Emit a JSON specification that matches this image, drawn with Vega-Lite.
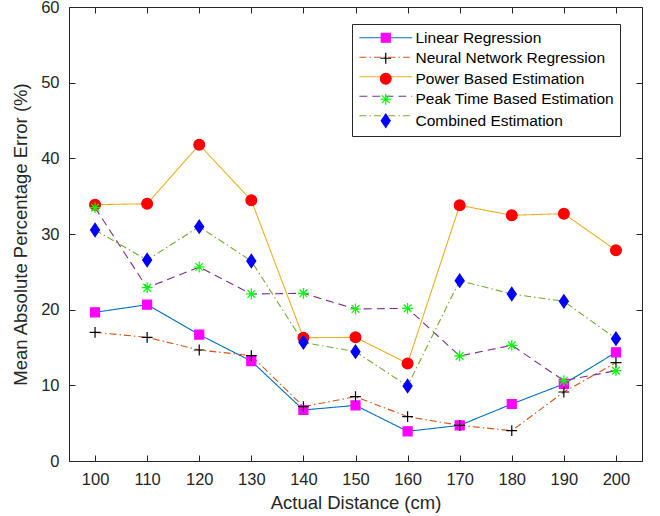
{
  "$schema": "https://vega.github.io/schema/vega-lite/v6.json",
  "width": 573,
  "height": 454,
  "autosize": "none",
  "padding": {"left": 69, "top": 7, "right": 18, "bottom": 55},
  "background": "white",
  "config": {
    "view": {"stroke": null},
    "font": "Liberation Sans",
    "axis": {"grid": false, "domainColor": "#262626", "tickColor": "#262626", "labelColor": "#262626", "titleColor": "#262626", "domainWidth": 1, "tickWidth": 1, "labelFont": "Liberation Sans", "titleFont": "Liberation Sans", "labelFontSize": 16.5, "titleFontSize": 18.5, "titleFontWeight": "normal"},
    "legend": {"labelFont": "Liberation Sans"}
  },
  "data": {"values": [
    {"distance": 100, "mape": 19.65, "method": "Linear Regression"},
    {"distance": 110, "mape": 20.66, "method": "Linear Regression"},
    {"distance": 120, "mape": 16.7, "method": "Linear Regression"},
    {"distance": 130, "mape": 13.2, "method": "Linear Regression"},
    {"distance": 140, "mape": 6.74, "method": "Linear Regression"},
    {"distance": 150, "mape": 7.35, "method": "Linear Regression"},
    {"distance": 160, "mape": 3.92, "method": "Linear Regression"},
    {"distance": 170, "mape": 4.71, "method": "Linear Regression"},
    {"distance": 180, "mape": 7.53, "method": "Linear Regression"},
    {"distance": 190, "mape": 10.18, "method": "Linear Regression"},
    {"distance": 200, "mape": 14.36, "method": "Linear Regression"},
    {"distance": 100, "mape": 17.0, "method": "Neural Network Regression"},
    {"distance": 110, "mape": 16.34, "method": "Neural Network Regression"},
    {"distance": 120, "mape": 14.67, "method": "Neural Network Regression"},
    {"distance": 130, "mape": 13.92, "method": "Neural Network Regression"},
    {"distance": 140, "mape": 7.18, "method": "Neural Network Regression"},
    {"distance": 150, "mape": 8.5, "method": "Neural Network Regression"},
    {"distance": 160, "mape": 5.86, "method": "Neural Network Regression"},
    {"distance": 170, "mape": 4.71, "method": "Neural Network Regression"},
    {"distance": 180, "mape": 4.01, "method": "Neural Network Regression"},
    {"distance": 190, "mape": 9.12, "method": "Neural Network Regression"},
    {"distance": 200, "mape": 13.0, "method": "Neural Network Regression"},
    {"distance": 100, "mape": 33.88, "method": "Power Based Estimation"},
    {"distance": 110, "mape": 34.0, "method": "Power Based Estimation"},
    {"distance": 120, "mape": 41.8, "method": "Power Based Estimation"},
    {"distance": 130, "mape": 34.45, "method": "Power Based Estimation"},
    {"distance": 140, "mape": 16.3, "method": "Power Based Estimation"},
    {"distance": 150, "mape": 16.34, "method": "Power Based Estimation"},
    {"distance": 160, "mape": 12.9, "method": "Power Based Estimation"},
    {"distance": 170, "mape": 33.79, "method": "Power Based Estimation"},
    {"distance": 180, "mape": 32.47, "method": "Power Based Estimation"},
    {"distance": 190, "mape": 32.69, "method": "Power Based Estimation"},
    {"distance": 200, "mape": 27.84, "method": "Power Based Estimation"},
    {"distance": 100, "mape": 33.48, "method": "Peak Time Based Estimation"},
    {"distance": 110, "mape": 22.9, "method": "Peak Time Based Estimation"},
    {"distance": 120, "mape": 25.64, "method": "Peak Time Based Estimation"},
    {"distance": 130, "mape": 22.07, "method": "Peak Time Based Estimation"},
    {"distance": 140, "mape": 22.16, "method": "Peak Time Based Estimation"},
    {"distance": 150, "mape": 20.09, "method": "Peak Time Based Estimation"},
    {"distance": 160, "mape": 20.18, "method": "Peak Time Based Estimation"},
    {"distance": 170, "mape": 13.88, "method": "Peak Time Based Estimation"},
    {"distance": 180, "mape": 15.29, "method": "Peak Time Based Estimation"},
    {"distance": 190, "mape": 10.62, "method": "Peak Time Based Estimation"},
    {"distance": 200, "mape": 11.94, "method": "Peak Time Based Estimation"},
    {"distance": 100, "mape": 30.53, "method": "Combined Estimation"},
    {"distance": 110, "mape": 26.56, "method": "Combined Estimation"},
    {"distance": 120, "mape": 30.97, "method": "Combined Estimation"},
    {"distance": 130, "mape": 26.43, "method": "Combined Estimation"},
    {"distance": 140, "mape": 15.68, "method": "Combined Estimation"},
    {"distance": 150, "mape": 14.45, "method": "Combined Estimation"},
    {"distance": 160, "mape": 9.91, "method": "Combined Estimation"},
    {"distance": 170, "mape": 23.83, "method": "Combined Estimation"},
    {"distance": 180, "mape": 22.07, "method": "Combined Estimation"},
    {"distance": 190, "mape": 21.1, "method": "Combined Estimation"},
    {"distance": 200, "mape": 16.17, "method": "Combined Estimation"}
  ]},
  "layer": [
    {
      "mark": {"type": "line", "strokeWidth": 1.1},
      "encoding": {
        "x": {"field": "distance", "type": "quantitative", "scale": {"domain": [95, 205], "nice": false, "zero": false},
          "axis": {"orient": "bottom", "values": [100, 110, 120, 130, 140, 150, 160, 170, 180, 190, 200], "tickSize": -6, "labelPadding": 16, "title": "Actual Distance (cm)", "titlePadding": 6}},
        "y": {"field": "mape", "type": "quantitative", "scale": {"domain": [0, 60], "nice": false},
          "axis": {"orient": "left", "values": [0, 10, 20, 30, 40, 50, 60], "tickSize": -6, "labelPadding": 16, "title": "Mean Absolute Percentage Error (%)", "titlePadding": 10}},
        "stroke": {"field": "method", "type": "nominal",
          "scale": {"domain": ["Linear Regression", "Neural Network Regression", "Power Based Estimation", "Peak Time Based Estimation", "Combined Estimation"], "range": ["#0072BD", "#D95319", "#EDB120", "#7E2F8E", "#77AC30"]},
          "legend": {"title": null, "orient": "none", "legendX": 283, "legendY": 17, "symbolSize": 144, "symbolOffset": 20, "labelOffset": 22, "padding": 6, "labelFontSize": 15.5, "labelLimit": 400, "rowPadding": 2.5, "labelOpacity": 0, "symbolType": "M-4.4,0L4.4,0", "symbolStrokeWidth": 1.1}},
        "strokeDash": {"field": "method", "type": "nominal",
          "scale": {"domain": ["Linear Regression", "Neural Network Regression", "Power Based Estimation", "Peak Time Based Estimation", "Combined Estimation"], "range": [[1, 0], [7, 3, 1.5, 3], [1, 0], [8, 5], [7, 3, 1.5, 3]]},
          "legend": {"title": null, "orient": "none", "legendX": 283, "legendY": 17, "symbolSize": 144, "symbolOffset": 20, "labelOffset": 22, "padding": 6, "labelFontSize": 15.5, "labelLimit": 400, "rowPadding": 2.5, "labelOpacity": 0, "symbolType": "M-4.4,0L4.4,0", "symbolStrokeWidth": 1.1}}
      }
    },
    {
      "mark": {"type": "point", "filled": false, "strokeWidth": 1.2, "size": 144, "opacity": 1},
      "encoding": {
        "x": {"field": "distance", "type": "quantitative",
          "axis": {"orient": "top", "values": [100, 110, 120, 130, 140, 150, 160, 170, 180, 190, 200], "tickSize": -6, "labels": false, "title": null}},
        "y": {"field": "mape", "type": "quantitative",
          "axis": {"orient": "right", "values": [0, 10, 20, 30, 40, 50, 60], "tickSize": -6, "labels": false, "title": null}},
        "color": {"field": "method", "type": "nominal", "sort": null,
          "scale": {"range": ["#FF00FF", "#000000", "#FF0000", "#00FF00", "#0000FF"]},
          "legend": {"title": null, "orient": "none", "legendX": 283, "legendY": 17, "symbolSize": 144, "symbolOffset": 20, "labelOffset": 22, "padding": 6, "labelFontSize": 15.5, "labelLimit": 400, "rowPadding": 2.5, "labelColor": "#000000", "strokeColor": "#262626", "symbolStrokeWidth": 1.2}},
        "fill": {"field": "method", "type": "nominal", "sort": null,
          "scale": {"range": ["#FF00FF", "#000000", "#FF0000", "#00FF00", "#0000FF"]},
          "legend": {"title": null, "orient": "none", "legendX": 283, "legendY": 17, "symbolSize": 144, "symbolOffset": 20, "labelOffset": 22, "padding": 6, "labelFontSize": 15.5, "labelLimit": 400, "rowPadding": 2.5, "labelColor": "#000000", "strokeColor": "#262626", "symbolStrokeWidth": 1.2}},
        "shape": {"field": "method", "type": "nominal", "sort": null,
          "scale": {"range": [
            "M-0.75,-0.75L0.75,-0.75L0.75,0.75L-0.75,0.75Z",
            "M-0.9,0L0.9,0M0,-0.9L0,0.9",
            "M0.9,0A0.9,0.9 0 1,1 -0.9,0A0.9,0.9 0 1,1 0.9,0Z",
            "M-0.9,0L0.9,0M0,-0.9L0,0.9M-0.64,-0.64L0.64,0.64M-0.64,0.64L0.64,-0.64",
            "M0,-1.1L0.75,0L0,1.1L-0.75,0Z"
          ]},
          "legend": {"title": null, "orient": "none", "legendX": 283, "legendY": 17, "symbolSize": 144, "symbolOffset": 20, "labelOffset": 22, "padding": 6, "labelFontSize": 15.5, "labelLimit": 400, "rowPadding": 2.5, "labelColor": "#000000", "strokeColor": "#262626", "symbolStrokeWidth": 1.2}}
      }
    }
  ]
}
